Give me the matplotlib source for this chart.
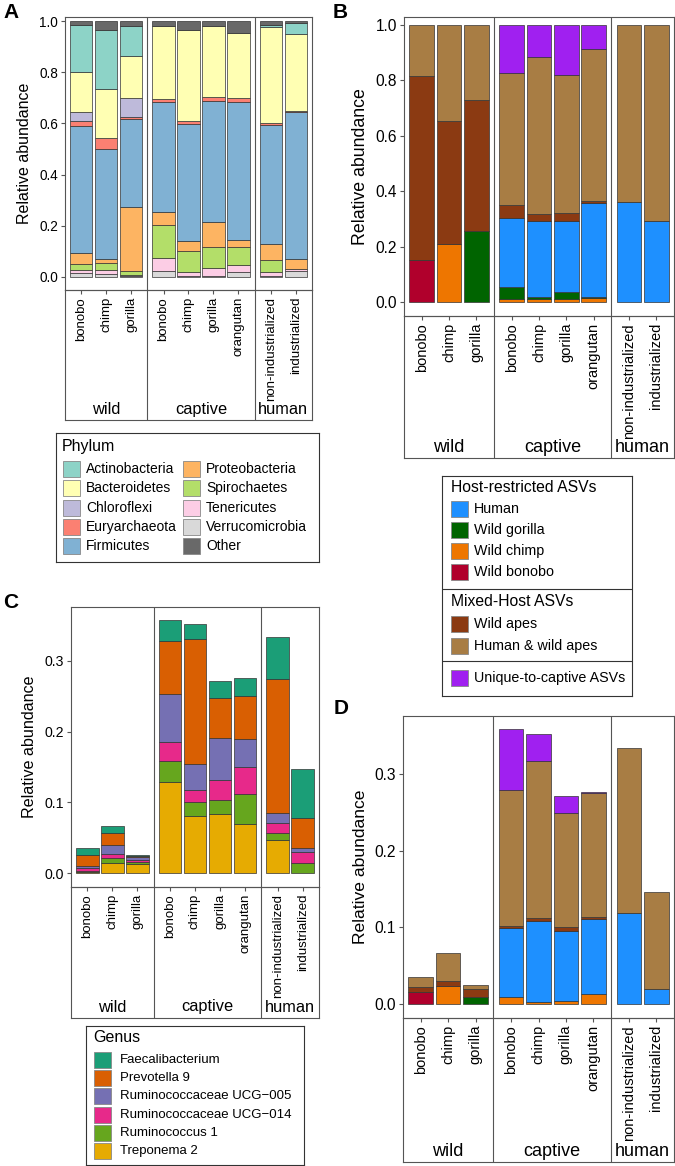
import numpy as np
import matplotlib
matplotlib.use("Agg")
import matplotlib.pyplot as plt
from matplotlib.patches import Rectangle

plt.rcParams['font.family'] = ['Liberation Sans', 'DejaVu Sans']

W, H = 675, 1166

# x categories (facets: wild / captive / human)
groups = ['wild', 'captive', 'human']
hosts = [['bonobo', 'chimp', 'gorilla'],
         ['bonobo', 'chimp', 'gorilla', 'orangutan'],
         ['non-industrialized', 'industrialized']]

# ---- panel A: phylum composition (bottom -> top)
phyla = ['Verrucomicrobia', 'Tenericutes', 'Spirochaetes', 'Proteobacteria', 'Firmicutes',
         'Euryarchaeota', 'Chloroflexi', 'Bacteroidetes', 'Actinobacteria', 'Other']
verrucomicrobia = [0.016, 0.013, 0.003, 0.022, 0.004, 0.003, 0.018, 0.003, 0.022]
tenericutes = [0.010, 0.013, 0.003, 0.053, 0.016, 0.032, 0.030, 0.017, 0.011]
spirochaetes = [0.026, 0.029, 0.0175, 0.130, 0.080, 0.082, 0.068, 0.045, 0.0]
proteobacteria = [0.042, 0.017, 0.2505, 0.050, 0.040, 0.096, 0.030, 0.062, 0.039]
firmicutes = [0.497, 0.428, 0.342, 0.428, 0.458, 0.476, 0.537, 0.467, 0.573]
euryarchaeota = [0.020, 0.044, 0.008, 0.013, 0.013, 0.013, 0.015, 0.007, 0.004]
chloroflexi = [0.033, 0.0, 0.077, 0.0, 0.0, 0.0, 0.0, 0.0, 0.0]
bacteroidetes = [0.156, 0.190, 0.161, 0.283, 0.355, 0.277, 0.255, 0.375, 0.301]
actinobacteria = [0.186, 0.230, 0.117, 0.0, 0.0, 0.0, 0.0, 0.010, 0.042]
other = [0.014, 0.036, 0.021, 0.021, 0.034, 0.021, 0.047, 0.014, 0.008]
phylum_vals = [verrucomicrobia, tenericutes, spirochaetes, proteobacteria, firmicutes,
               euryarchaeota, chloroflexi, bacteroidetes, actinobacteria, other]
phylum_cols = {'Actinobacteria': '#8DD3C7', 'Bacteroidetes': '#FFFFB3', 'Chloroflexi': '#BEBADA',
               'Euryarchaeota': '#FB8072', 'Firmicutes': '#80B1D3', 'Proteobacteria': '#FDB462',
               'Spirochaetes': '#B3DE69', 'Tenericutes': '#FCCDE5', 'Verrucomicrobia': '#D9D9D9',
               'Other': '#696969'}

# ---- panel B / D: ASV origin (bottom -> top)
asv_cats = ['Wild bonobo', 'Wild chimp', 'Wild gorilla', 'Human', 'Wild apes',
            'Human & wild apes', 'Unique-to-captive ASVs']
asv_cols = {'Human': '#1E90FF', 'Wild gorilla': '#006400', 'Wild chimp': '#EE7600',
            'Wild bonobo': '#B0002C', 'Wild apes': '#8B3A12', 'Human & wild apes': '#A87D44',
            'Unique-to-captive ASVs': '#A020F0'}
b_wild_bonobo = [0.150, 0, 0, 0, 0, 0, 0, 0, 0]
b_wild_chimp = [0, 0.208, 0, 0.012, 0.010, 0.010, 0.013, 0, 0]
b_wild_gorilla = [0, 0, 0.258, 0.041, 0.009, 0.027, 0.006, 0, 0]
b_human = [0, 0, 0, 0.250, 0.275, 0.256, 0.337, 0.361, 0.294]
b_wild_apes = [0.667, 0.446, 0.472, 0.046, 0.023, 0.028, 0.008, 0, 0]
b_human_wild = [0.183, 0.346, 0.270, 0.477, 0.566, 0.497, 0.548, 0.639, 0.706]
b_unique = [0, 0, 0, 0.174, 0.117, 0.182, 0.088, 0, 0]

d_wild_bonobo = [0.015, 0, 0, 0, 0, 0, 0, 0, 0]
d_wild_chimp = [0, 0.024, 0, 0.009, 0.002, 0.004, 0.0135, 0, 0]
d_wild_gorilla = [0, 0, 0.009, 0, 0, 0, 0, 0, 0]
d_human = [0, 0, 0, 0.0897, 0.1067, 0.0917, 0.0975, 0.1183, 0.0196]
d_wild_apes = [0.0067, 0.006, 0.011, 0.0035, 0.003, 0.0043, 0.002, 0, 0]
d_human_wild = [0.013, 0.037, 0.005, 0.1774, 0.2056, 0.1496, 0.162, 0.216, 0.127]
d_unique = [0, 0, 0, 0.079, 0.035, 0.0217, 0.001, 0, 0]

# ---- panel C: genus (bottom -> top)
genera = ['Treponema 2', 'Ruminococcus 1', 'Ruminococcaceae UCG\u2212014',
          'Ruminococcaceae UCG\u2212005', 'Prevotella 9', 'Faecalibacterium']
genus_cols = {'Faecalibacterium': '#1B9E77', 'Prevotella 9': '#D95F02',
              'Ruminococcaceae UCG\u2212005': '#7570B3', 'Ruminococcaceae UCG\u2212014': '#E7298A',
              'Ruminococcus 1': '#66A61E', 'Treponema 2': '#E6AB02'}
treponema = [0.001, 0.014, 0.013, 0.129, 0.080, 0.084, 0.069, 0.046, 0.0]
ruminococcus1 = [0.002, 0.007, 0.002, 0.030, 0.021, 0.019, 0.043, 0.0104, 0.014]
ucg014 = [0.004, 0.006, 0.003, 0.027, 0.016, 0.029, 0.038, 0.015, 0.0156]
ucg005 = [0.003, 0.0125, 0.004, 0.068, 0.037, 0.059, 0.040, 0.014, 0.0056]
prevotella = [0.016, 0.0175, 0.002, 0.074, 0.1775, 0.057, 0.0606, 0.1894, 0.0426]
faecalibacterium = [0.009, 0.010, 0.001, 0.030, 0.0205, 0.023, 0.025, 0.059, 0.069]

FRAME = '#555555'
fig = plt.figure(figsize=(W / 100, H / 100), dpi=100)


def px_axes(x0, y0, x1, y1):
    return fig.add_axes([x0 / W, 1 - y1 / H, (x1 - x0) / W, (y1 - y0) / H])


# facet layout in bar units
offsets = [0, 3.3, 7.6]
seps = [3.3, 7.6]
xpos, xlabels, centers = [], [], []
for off, hs in zip(offsets, hosts):
    for k, h in enumerate(hs):
        xpos.append(off + 0.65 + k)
        xlabels.append(h)
    centers.append(off + (len(hs) + 0.3) / 2)
xpos = np.array(xpos)


def stacked_panel(box, strip_bottom, ylim, yticks, layers, colors, fs_x, fs_y, fs_lab, fs_strip):
    x0, y0, x1, y1 = box
    ax = px_axes(x0, y0, x1, y1)
    bottom = np.zeros(len(xpos))
    for vals, col in zip(layers, colors):
        vals = np.array(vals, dtype=float)
        m = vals > 0
        ax.bar(xpos[m], vals[m], width=0.9, bottom=bottom[m], color=col,
               edgecolor='#333333', linewidth=0.5)
        bottom += vals
    ax.set_xlim(0, 9.9)
    ax.set_ylim(*ylim)
    for s in seps:
        ax.axvline(s, color=FRAME, lw=0.8)
    ax.set_xticks(xpos)
    ax.set_xticklabels(xlabels, rotation=90, fontsize=fs_x)
    ax.set_yticks(yticks)
    ax.set_yticklabels(['%.1f' % t for t in yticks], fontsize=fs_y)
    ax.tick_params(direction='out', length=3, width=0.8, color=FRAME, pad=2)
    ax.set_ylabel('Relative abundance', fontsize=fs_lab, labelpad=5)
    for sp in ax.spines.values():
        sp.set_color(FRAME)
        sp.set_linewidth(0.8)
    # facet strip at the bottom
    st = px_axes(x0, y1, x1, strip_bottom)
    st.set_facecolor('none')
    st.set_xlim(0, 9.9)
    st.set_ylim(strip_bottom - y1, 0)
    st.set_xticks([])
    st.set_yticks([])
    for s in seps:
        st.axvline(s, color=FRAME, lw=0.8)
    for sp in st.spines.values():
        sp.set_color(FRAME)
        sp.set_linewidth(0.8)
    for c, g in zip(centers, groups):
        st.text(c, strip_bottom - y1 - 11, g, ha='center', va='center', fontsize=fs_strip)
    return ax


def legend_axes(x0, y0, x1, y1):
    lax = px_axes(x0, y0, x1, y1)
    lax.set_xlim(x0, x1)
    lax.set_ylim(y1, y0)
    lax.set_xticks([])
    lax.set_yticks([])
    for sp in lax.spines.values():
        sp.set_color('#333333')
        sp.set_linewidth(0.8)
    return lax


def key(lax, x, y, col, label, fs, tx):
    lax.add_patch(Rectangle((x, y - 8), 16.5, 16, facecolor=col, edgecolor='#888888', lw=0.6))
    lax.text(tx, y, label, va='center', ha='left', fontsize=fs)


# ---- A
stacked_panel((65, 16.7, 312, 290), 420, (-0.0508, 1.017), [0, 0.2, 0.4, 0.6, 0.8, 1.0],
              phylum_vals, [phylum_cols[p] for p in phyla], 9.5, 9.8, 11.5, 11.8)
lax = legend_axes(56, 433, 319, 562)
lax.text(62, 447, 'Phylum', va='center', fontsize=11.5)
col1 = ['Actinobacteria', 'Bacteroidetes', 'Chloroflexi', 'Euryarchaeota', 'Firmicutes']
col2 = ['Proteobacteria', 'Spirochaetes', 'Tenericutes', 'Verrucomicrobia', 'Other']
for i, (p1, p2) in enumerate(zip(col1, col2)):
    y = 469 + i * 19.3
    key(lax, 63, y, phylum_cols[p1], p1, 10, 86)
    key(lax, 183, y, phylum_cols[p2], p2, 10, 206)

# ---- B
stacked_panel((404, 16.7, 674, 316), 458, (-0.0505, 1.030), [0, 0.2, 0.4, 0.6, 0.8, 1.0],
              [b_wild_bonobo, b_wild_chimp, b_wild_gorilla, b_human, b_wild_apes,
               b_human_wild, b_unique],
              [asv_cols[c] for c in asv_cats], 10.5, 11.2, 12.8, 13)
lax = legend_axes(442, 476, 632, 696)
lax.text(451, 487, 'Host-restricted ASVs', va='center', fontsize=11.3)
for i, c in enumerate(['Human', 'Wild gorilla', 'Wild chimp', 'Wild bonobo']):
    key(lax, 451, 509 + i * 21, asv_cols[c], c, 10.3, 474)
lax.axhline(589, color='#333333', lw=0.8)
lax.text(451, 602, 'Mixed-Host ASVs', va='center', fontsize=11.3)
for i, c in enumerate(['Wild apes', 'Human & wild apes']):
    key(lax, 451, 624 + i * 22, asv_cols[c], c, 10.3, 474)
lax.axhline(661, color='#333333', lw=0.8)
key(lax, 451, 678, asv_cols['Unique-to-captive ASVs'], 'Unique-to-captive ASVs', 10.3, 474)

# ---- C
stacked_panel((71, 607, 319, 887), 1018, (-0.0198, 0.3764), [0, 0.1, 0.2, 0.3],
              [treponema, ruminococcus1, ucg014, ucg005, prevotella, faecalibacterium],
              [genus_cols[g] for g in genera], 9.5, 10.2, 11.6, 11.8)
lax = legend_axes(86, 1026, 304, 1165)
lax.text(93, 1038, 'Genus', va='center', fontsize=11.5)
for i, g in enumerate(genera[::-1]):
    key(lax, 94, 1060 + i * 18.2, genus_cols[g], g, 9.5, 120)

# ---- D
stacked_panel((403, 716, 674, 1018), 1162, (-0.0183, 0.3755), [0, 0.1, 0.2, 0.3],
              [d_wild_bonobo, d_wild_chimp, d_wild_gorilla, d_human, d_wild_apes,
               d_human_wild, d_unique],
              [asv_cols[c] for c in asv_cats], 10.5, 11.2, 12.6, 13)

# panel letters
for lab, x, y in [('A', 3, 13), ('B', 333, 13), ('C', 3, 602), ('D', 334, 709)]:
    fig.text(x / W, 1 - y / H, lab, fontsize=15, fontweight='bold', va='center', ha='left')

fig.savefig('out.png', dpi=100)
